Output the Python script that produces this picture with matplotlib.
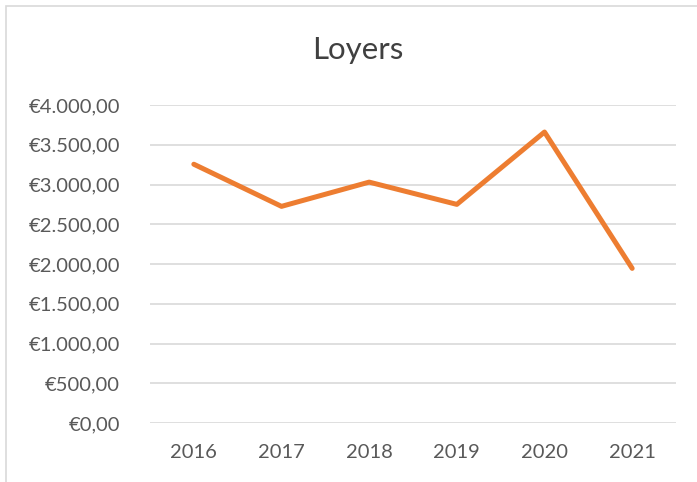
import matplotlib.pyplot as plt
from matplotlib.patches import Rectangle

years = ['2016', '2017', '2018', '2019', '2020', '2021']
loyers = [3255, 2725, 3030, 2750, 3660, 1945]
y_ticks = [0, 500, 1000, 1500, 2000, 2500, 3000, 3500, 4000]

plt.rcParams['font.family'] = ['Lato', 'DejaVu Sans']

fig = plt.figure(figsize=(6.97, 4.82), dpi=100)
fig.patches.append(Rectangle((6 / 697, -0.1), 1.1, 1.1 - 6 / 482 + 0.0,
                             transform=fig.transFigure, fill=False,
                             edgecolor='#D9D9D9', linewidth=1.2))

ax = fig.add_axes([150 / 697, 1 - 423 / 482, 526 / 697, 318 / 482])
x = range(len(years))
ax.plot(x, loyers, color='#ED7D31', linewidth=3.6, solid_capstyle='round',
        solid_joinstyle='round', zorder=3)

ax.set_xlim(-0.5, len(years) - 0.5)
ax.set_ylim(0, 4000)
ax.set_yticks(y_ticks)
ax.set_yticklabels(['€' + f'{v:,.2f}'.replace(',', ' ').replace('.', ',').replace(' ', '.')
                    for v in y_ticks])
ax.set_xticks(list(x))
ax.set_xticklabels(years)
ax.grid(axis='y', color='#D9D9D9', linewidth=1.2)
ax.set_axisbelow(True)
for s in ax.spines.values():
    s.set_visible(False)
ax.tick_params(length=0, labelsize=14.5, colors='#595959')
ax.tick_params(axis='y', pad=21.5)
ax.tick_params(axis='x', pad=15)

fig.text(358 / 697, 1 - 50 / 482, 'Loyers', ha='center', va='center',
         fontsize=22.5, color='#404040')

fig.savefig('out.png', dpi=100)
